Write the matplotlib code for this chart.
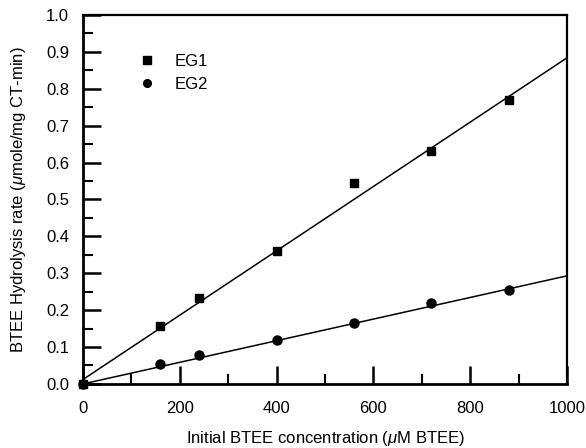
import matplotlib
matplotlib.use("Agg")
import matplotlib.pyplot as plt
from matplotlib.ticker import MultipleLocator, FormatStrFormatter

conc = [0, 160, 240, 400, 560, 720, 880]
eg1 = [0.0, 0.157, 0.232, 0.359, 0.546, 0.632, 0.770]
eg2 = [0.0, 0.054, 0.078, 0.120, 0.166, 0.219, 0.255]
fit_x = [0, 1000]
eg1_fit = [0.012, 0.884]
eg2_fit = [0.0, 0.293]

plt.rcParams['font.family'] = ['Liberation Sans', 'DejaVu Sans']
plt.rcParams['mathtext.fontset'] = 'custom'
plt.rcParams['mathtext.it'] = 'Liberation Sans:italic'

fig = plt.figure(figsize=(5.86, 4.48), dpi=100)
ax = fig.add_axes([0.1416, 0.143, 0.826, 0.8235])

ax.plot(fit_x, eg1_fit, color='black', lw=1.1, zorder=2)
ax.plot(fit_x, eg2_fit, color='black', lw=1.1, zorder=2)
ax.plot(conc, eg1, ls='none', marker='s', ms=6, color='black', label='EG1', zorder=3, clip_on=False)
ax.plot(conc, eg2, ls='none', marker='o', ms=6.5, color='black', label='EG2', zorder=3, clip_on=False)

ax.set_xlim(0, 1000)
ax.set_ylim(0, 1.0)
ax.xaxis.set_major_locator(MultipleLocator(200))
ax.xaxis.set_minor_locator(MultipleLocator(100))
ax.yaxis.set_major_locator(MultipleLocator(0.1))
ax.yaxis.set_minor_locator(MultipleLocator(0.05))
ax.xaxis.set_major_formatter(FormatStrFormatter('%d'))
ax.yaxis.set_major_formatter(FormatStrFormatter('%.1f'))
ax.tick_params(which='major', direction='in', length=13, width=1.8, labelsize=12, top=False, right=False)
ax.tick_params(which='minor', direction='in', length=7, width=1.5, top=False, right=False)
ax.tick_params(axis='x', which='major', pad=12)
ax.tick_params(axis='y', which='major', pad=10)
for s in ['left', 'bottom']:
    ax.spines[s].set_linewidth(2.0)
for s in ['top', 'right']:
    ax.spines[s].set_linewidth(1.6)

ax.set_xlabel('Initial BTEE concentration ($\\mu$M BTEE)', fontsize=12)
ax.set_ylabel('BTEE Hydrolysis rate ($\\mu$mole/mg CT-min)', fontsize=12)
ax.xaxis.set_label_coords(0.5, -0.121)
ax.yaxis.set_label_coords(-0.113, 0.5)

ax.legend(loc='upper left', bbox_to_anchor=(0.084, 0.913), frameon=False, fontsize=12,
          handletextpad=0.68, labelspacing=0.49, markerscale=0.85, borderaxespad=0)

fig.savefig('out.png', dpi=100)
